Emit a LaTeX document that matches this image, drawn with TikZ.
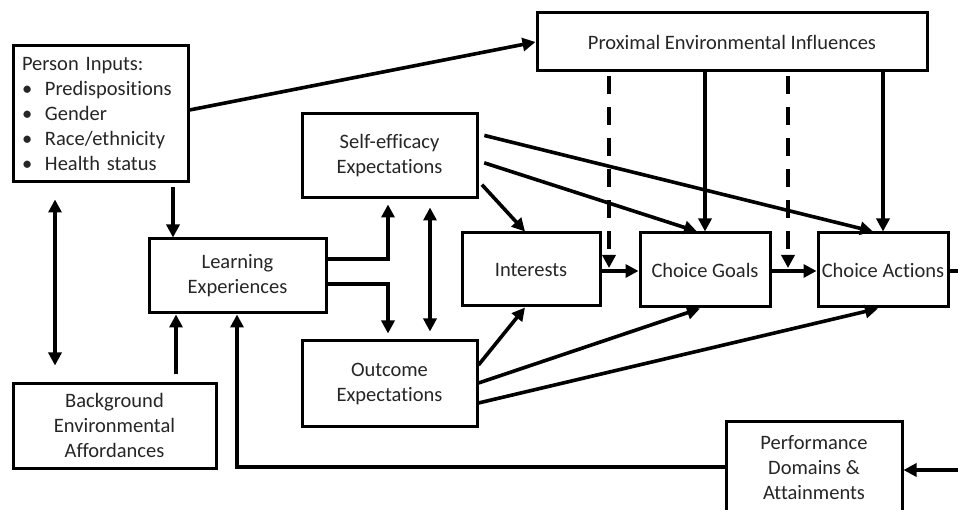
\documentclass[tikz,border=0pt]{standalone}
\usepackage{fontspec}
\setmainfont[Ligatures=NoCommon]{Carlito}
\usetikzlibrary{arrows.meta}
\definecolor{txt}{RGB}{38,38,38}
\begin{document}
\begin{tikzpicture}[x=1pt,y=-1pt,
  box/.style={draw=black, line width=3pt, inner sep=0pt, align=center, text=txt,
    font=\fontsize{20.5}{25}\selectfont},
  arr/.style={line width=3.6pt, -{Triangle[width=13pt,length=13pt]}},
  darr/.style={line width=3.6pt, {Triangle[width=13pt,length=13pt]}-{Triangle[width=13pt,length=13pt]}},
  dasharr/.style={arr, dash pattern=on 18pt off 13pt}]
\useasboundingbox (0,0) rectangle (958,510);
\fill[white] (0,0) rectangle (958,510);

% boxes
\node[box, minimum width=175pt, minimum height=136pt, text width=157pt, inner xsep=9pt, align=left]
  (pi) at (100.5,114) {Person Inputs:\\
  \makebox[23pt][l]{\textbullet}Predispositions\\
  \makebox[23pt][l]{\textbullet}Gender\\
  \makebox[23pt][l]{\textbullet}Race/ethnicity\\
  \makebox[23pt][l]{\textbullet}Health status};
\node[box, minimum width=203pt, minimum height=85pt] (bg) at (114.5,425.5) {Background\\Environmental\\Affordances};
\node[box, minimum width=177pt, minimum height=74pt] (le) at (237.5,276) {Learning\\Experiences};
\node[box, minimum width=175pt, minimum height=84pt] (se) at (389.5,156) {Self-efficacy\\Expectations};
\node[box, minimum width=175pt, minimum height=85pt] (oe) at (389.5,383.5) {Outcome\\Expectations};
\node[box, minimum width=138pt, minimum height=73pt] (in) at (531,269.5) {Interests};
\node[box, minimum width=130pt, minimum height=74pt] (cg) at (705,270) {Choice Goals};
\node[box, minimum width=130pt, minimum height=74pt] (ca) at (883,270) {Choice Actions};
\node[box, minimum width=390pt, minimum height=58pt] (pe) at (732,42) {Proximal Environmental Influences};
\node[box, minimum width=176pt, minimum height=94pt] (pd) at (814,468) {Performance\\Domains \&\\Attainments};

% connectors
\draw[arr] (pi.east |- 0,110) -- (pe.west);
\draw[arr, shorten <=4pt] (pi.south -| 173,0) -- (le.north -| 173,0);
\draw[darr, shorten <=16pt, shorten >=16pt] (pi.south -| 55,0) -- (bg.north -| 55,0);
\draw[arr, shorten <=8pt] (bg.north -| 176,0) -- (le.south -| 176,0);
\draw[arr, shorten >=5pt] (le.east |- 0,259) -| (se.south -| 388,0);
\draw[arr, shorten >=6pt] (le.east |- 0,284) -| (oe.north -| 388,0);
\draw[darr, shorten <=8pt, shorten >=8pt] (se.south -| 430,0) -- (oe.north -| 430,0);
\draw[arr, shorten <=5pt] (se.east |- 0,181) -- (in.north -| 525,0);
\draw[arr] (oe.east |- 0,365) -- (in.south -| 525,0);
\draw[arr, shorten <=6pt] (se.east |- 0,161) -- (cg.north -| 697,0);
\draw[arr, shorten <=6pt] (se.east |- 0,134) -- (ca.north -| 873,0);
\draw[arr] (oe.east |- 0,383) -- (cg.south -| 700,0);
\draw[arr] (oe.east |- 0,403) -- (ca.south -| 878,0);
\draw[arr] (in.east |- 0,271) -- (cg.west |- 0,271);
\draw[arr] (cg.east |- 0,271) -- (ca.west |- 0,271);
\draw[arr] (pe.south -| 705,0) -- (cg.north -| 705,0);
\draw[arr] (pe.south -| 883,0) -- (ca.north -| 883,0);
\coordinate (j1) at (609,271);
\coordinate (j2) at (788,271);
\draw[dasharr, shorten <=4pt, shorten >=3pt] (pe.south -| j1) -- (j1);
\draw[dasharr, shorten <=4pt, shorten >=3pt] (pe.south -| j2) -- (j2);
\coordinate (rr) at (975,470);
\draw[arr] (ca.east |- 0,271) -| (rr) -- (pd.east |- rr);
\draw[arr] (pd.west |- 0,467) -| (le.south -| 237,0);
\end{tikzpicture}
\end{document}
